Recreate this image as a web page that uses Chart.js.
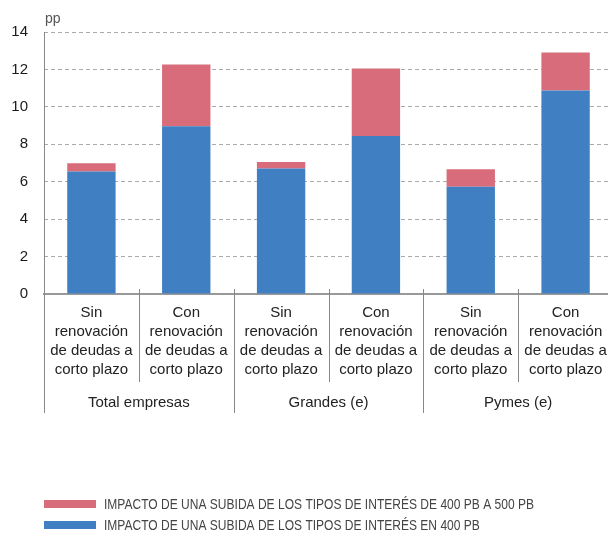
<!DOCTYPE html>
<html>
<head>
<meta charset="utf-8">
<script src="https://cdn.jsdelivr.net/npm/chart.js@4"></script>
<style>
  html, body { margin: 0; padding: 0; background: #fff; overflow: hidden; }
  #wrap { width: 613px; height: 533px; }
</style>
</head>
<body>
<div id="wrap"><canvas id="chart" width="613" height="533"></canvas></div>
<script>
const categories = [
  ["Sin", "renovación", "de deudas a", "corto plazo"],
  ["Con", "renovación", "de deudas a", "corto plazo"],
  ["Sin", "renovación", "de deudas a", "corto plazo"],
  ["Con", "renovación", "de deudas a", "corto plazo"],
  ["Sin", "renovación", "de deudas a", "corto plazo"],
  ["Con", "renovación", "de deudas a", "corto plazo"],
];
const groups = ["Total empresas", "Grandes (e)", "Pymes (e)"];
const impacto400 = [6.54, 8.96, 6.70, 8.44, 5.73, 10.87];
const impacto400a500 = [0.44, 3.31, 0.35, 3.61, 0.93, 2.04];
const yTicks = [0, 2, 4, 6, 8, 10, 12, 14];

const BLUE = "#4080c2";
const PINK = "#d86c7b";
const FONT = "'Helvetica Neue', Arial, 'Liberation Sans', sans-serif";

// separators, group labels, "pp" and the legend
const extras = {
  id: "extras",
  afterDraw(chart) {
    const ctx = chart.ctx;
    const x = chart.scales.x;
    const area = chart.chartArea;
    const step = x.getPixelForValue(1) - x.getPixelForValue(0);
    ctx.save();
    ctx.strokeStyle = "#888";
    ctx.lineWidth = 1;
    for (let i = 0; i <= categories.length; i++) {
      const px = Math.round(x.getPixelForValue(i) - step / 2) + 0.5;
      const isGroup = i % 2 === 0;
      ctx.beginPath();
      ctx.moveTo(px, i === 0 ? area.top : area.bottom - 5);
      ctx.lineTo(px, isGroup ? 413 : 382);
      ctx.stroke();
    }
    ctx.fillStyle = "#222";
    ctx.font = "15px " + FONT;
    ctx.textAlign = "center";
    ctx.textBaseline = "middle";
    groups.forEach((g, i) => {
      const px = (x.getPixelForValue(i * 2) + x.getPixelForValue(i * 2 + 1)) / 2;
      ctx.fillText(g, px, 403);
    });

    ctx.fillStyle = "#555";
    ctx.font = "14px " + FONT;
    ctx.textAlign = "left";
    ctx.textBaseline = "alphabetic";
    ctx.fillText("pp", 45, 23);

    // legend, pink first; the original uses a narrow face, so squeeze the text
    const items = [chart.data.datasets[1], chart.data.datasets[0]];
    ctx.font = "15px 'Liberation Sans', Arial, sans-serif";
    ctx.textBaseline = "middle";
    const squeeze = 430 / ctx.measureText(items[0].label).width;
    items.forEach((ds, i) => {
      const y = 504 + i * 21;
      ctx.fillStyle = ds.backgroundColor;
      ctx.fillRect(44, y - 4, 52, 8);
      ctx.save();
      ctx.translate(104, y + 0.5);
      ctx.scale(squeeze, 1);
      ctx.fillStyle = "#444";
      ctx.fillText(ds.label, 0, 0);
      ctx.restore();
    });
    ctx.restore();
  },
};

new Chart(document.getElementById("chart"), {
  type: "bar",
  data: {
    labels: categories,
    datasets: [
      {
        label: "IMPACTO DE UNA SUBIDA DE LOS TIPOS DE INTERÉS EN 400 PB",
        data: impacto400,
        backgroundColor: BLUE,
      },
      {
        label: "IMPACTO DE UNA SUBIDA DE LOS TIPOS DE INTERÉS DE 400 PB A 500 PB",
        data: impacto400a500,
        backgroundColor: PINK,
      },
    ],
  },
  options: {
    responsive: false,
    animation: false,
    categoryPercentage: 1,
    barPercentage: 0.51,
    layout: { padding: { top: 32, bottom: 118, left: 0, right: 0 } },
    plugins: {
      legend: { display: false },
      tooltip: { enabled: false },
    },
    scales: {
      x: {
        stacked: true,
        grid: { display: false, drawTicks: false },
        border: { display: true, color: "#999", width: 2 },
        ticks: {
          color: "#222",
          padding: 9.5,
          maxRotation: 0,
          autoSkip: false,
          font: { family: FONT, size: 15, lineHeight: "19px" },
        },
        afterFit(scale) {
          scale.height = 121;
          scale.paddingLeft = 0;
          scale.paddingRight = 0;
        },
      },
      y: {
        stacked: true,
        min: 0,
        max: 14,
        afterBuildTicks(scale) { scale.ticks = yTicks.map((v) => ({ value: v })); },
        grid: {
          color: (c) => (c.tick && c.tick.value === 0 ? "rgba(0,0,0,0)" : "#aaa"),
          lineWidth: 1,
          drawTicks: false,
        },
        border: { display: false, dash: [4, 3] },
        ticks: {
          color: "#1a1a1a",
          padding: 16,
          font: { family: FONT, size: 15 },
        },
        afterFit(scale) { scale.width = 44; },
      },
    },
  },
  plugins: [extras],
});
</script>
</body>
</html>
